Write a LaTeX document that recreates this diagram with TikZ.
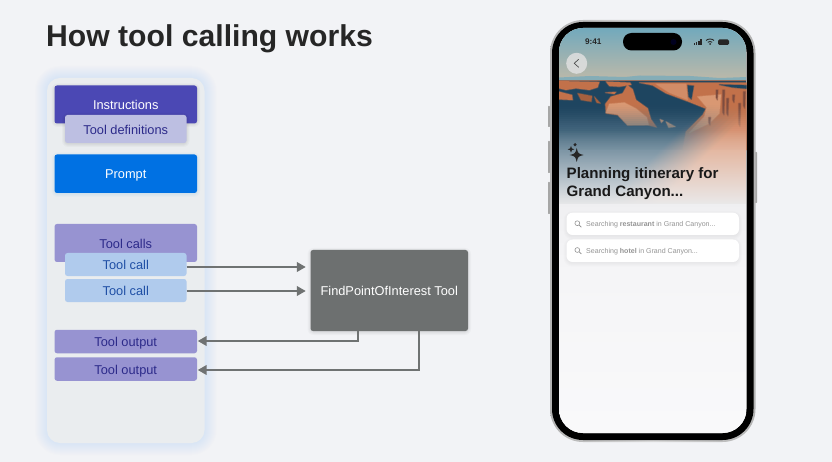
\documentclass[tikz,border=0pt]{standalone}
\usepackage{fontspec}
\setmainfont{Liberation Sans}
\usetikzlibrary{arrows.meta,fadings,calc}
\definecolor{bgc}{HTML}{F2F3F6}
\definecolor{panelc}{HTML}{EAEDEF}
\definecolor{glowc}{HTML}{C4DAF5}
\definecolor{instc}{HTML}{4B48B4}
\definecolor{defc}{HTML}{BDBFE2}
\definecolor{darktxt}{HTML}{2C2A8A}
\definecolor{promptc}{HTML}{0071E3}
\definecolor{violetc}{HTML}{9793D1}
\definecolor{callc}{HTML}{B0CBED}
\definecolor{calltxt}{HTML}{1F4FA5}
\definecolor{toolc}{HTML}{6D7070}
\definecolor{arrowc}{HTML}{6F7272}
\definecolor{rockA}{HTML}{C2714A}
\definecolor{rockB}{HTML}{D99873}
\definecolor{rockD}{HTML}{1E4560}
\definecolor{rockE}{HTML}{7E4C3E}
\definecolor{skyA}{HTML}{72A9BC}
\definecolor{skyB}{HTML}{BDB9A9}
\definecolor{fogL}{HTML}{56778C}
\definecolor{fogR}{HTML}{E2A688}
\definecolor{mistA}{HTML}{E6E6E8}
\definecolor{mistB}{HTML}{F5F5F7}
\definecolor{mistC}{HTML}{FCFCFD}
\tikzfading[name=fadeDown,top color=transparent!100,bottom color=transparent!0]
\pgfdeclarehorizontalshading{fogshade}{100bp}{color(0bp)=(fogL); color(50bp)=(fogL); color(62bp)=(fogR); color(100bp)=(fogR)}
\pgfdeclareverticalshading{mistshade}{100bp}{color(0bp)=(mistC); color(60bp)=(mistB); color(100bp)=(mistA)}
\tikzset{
  box/.style={rectangle,rounded corners=2.5pt,minimum width=#1,inner sep=0pt,font=\fontsize{12.8}{14}\selectfont,text height=10.4pt,text depth=0pt},
  widebox/.style={box=142.5pt},
  narrowbox/.style={box=121.5pt},
  flow/.style={draw=arrowc,line width=2.3pt,-{Triangle[length=9pt,width=9.5pt]}},
  card/.style={fill=white,rounded corners=6pt,draw=none},
  cardtext/.style={font=\fontsize{7.05}{8}\selectfont,text=black!42,anchor=base west,inner sep=0pt},
  rock/.style={fill=#1,draw=#1,draw opacity=.4,line width=1.4pt,line join=round},
}
\newcommand{\softbox}[5]{% x1 y1 x2 y2 colour
  \foreach \g in {0,1,2,3}
    \fill[#5,opacity=.025,rounded corners=3pt+\g] (#1-\g,#2-\g+1) rectangle (#3+\g,#4+\g+1);}
\newcommand{\sparkle}[3]{% x y r
  \fill[black!85] (#1-#3,#2) .. controls (#1-#3*.2,#2-#3*.2) .. (#1,#2-#3) .. controls (#1+#3*.2,#2-#3*.2) .. (#1+#3,#2) .. controls (#1+#3*.2,#2+#3*.2) .. (#1,#2+#3) .. controls (#1-#3*.2,#2+#3*.2) .. cycle;}
\newcommand{\lens}[2]{%
  \draw[black!45,line width=.55pt] (#1,#2) circle (2.4pt);
  \draw[black!45,line width=.7pt] (#1+1.8,#2+1.8) -- (#1+4,#2+4);}
\begin{document}
\begin{tikzpicture}[x=1pt,y=-1pt]
\useasboundingbox (0,0) rectangle (832,462);
\fill[bgc] (0,0) rectangle (832,462);
\node[anchor=base west,inner sep=0pt,font=\fontsize{30.15}{36}\selectfont\bfseries,text=black!85] (title) at (46,47) {How tool calling works};
% panel with glow
\foreach \g in {1,...,12}
  \fill[glowc,opacity=.045,rounded corners=13pt+\g] (47-\g,78-\g) rectangle (204.5+\g,443+\g);
\fill[panelc,rounded corners=13pt] (47,78) rectangle (204.5,443);
% boxes
\softbox{54.5}{85.5}{197}{123}{black}
\node[widebox,minimum height=38pt,fill=instc,text=white] (inst) at (125.75,104.5) {Instructions};
\softbox{65}{115}{186.5}{143}{black}
\node[narrowbox,minimum height=28pt,fill=defc,text=darktxt] (defs) at (125.75,129) {Tool definitions};
\softbox{54.5}{154.5}{197}{193}{promptc}
\node[widebox,minimum height=38.5pt,fill=promptc,text=white] (prompt) at (125.75,173.75) {Prompt};
\node[widebox,minimum height=38pt,fill=violetc,text=darktxt] (calls) at (125.75,243) {Tool calls};
\node[narrowbox,minimum height=23pt,fill=callc,text=calltxt] (call1) at (125.75,264.5) {Tool call};
\node[narrowbox,minimum height=23pt,fill=callc,text=calltxt] (call2) at (125.75,290.5) {Tool call};
\node[widebox,minimum height=23.5pt,fill=violetc,text=darktxt] (out1) at (125.75,341.5) {Tool output};
\node[widebox,minimum height=23.5pt,fill=violetc,text=darktxt] (out2) at (125.75,369) {Tool output};
\softbox{310.5}{250}{468}{331}{black}
\node[rectangle,rounded corners=2.5pt,minimum width=157.5pt,minimum height=81pt,inner sep=0pt,fill=toolc,text=white,font=\fontsize{12.8}{14}\selectfont] (tool) at (389.25,290.5) {FindPointOfInterest Tool};
% connectors
\draw[flow,shorten >=4.5pt] ([yshift=-2.5pt]call1.east) -- ([yshift=-2.5pt]call1.east -| tool.west);
\draw[flow,shorten >=4.5pt] ([yshift=-.5pt]call2.east) -- ([yshift=-.5pt]call2.east -| tool.west);
\draw[flow,shorten >=.5pt] ([xshift=-31.25pt]tool.south) |- ([yshift=.5pt]out1.east);
\draw[flow,shorten >=.5pt] ([xshift=29.75pt]tool.south) |- ([yshift=-1pt]out2.east);
% phone
\foreach \a/\b/\c/\d in {548/106/550/127,548/141/550/173,548/182/550/214,755/152/757/203}
  \fill[black!35,rounded corners=.6pt] (\a,\b) rectangle (\c,\d);
\shade[rounded corners=33pt,left color=black!30,right color=black!30,middle color=black!15] (550,20) rectangle (755.5,442);
\fill[black,rounded corners=31pt] (552,22) rectangle (753.5,440);
\fill[white,rounded corners=24pt] (559,28) rectangle (746.5,433);
\begin{scope}
  \clip[rounded corners=24pt] (559,28) rectangle (746.5,433);
  \shade[top color=skyA,bottom color=skyB] (559,28) rectangle (746.5,80);
  \fill[skyA!75!skyB] (559,77.5) -- (590,76) -- (625,77) -- (640,75.5) -- (690,76) -- (720,78) -- (746.5,77) -- (746.5,81) -- (559,81) -- cycle;
  \fill[rockE!70!skyB] (559,80) rectangle (746.5,82);
  % canyon, drawn in the 3x crop's coordinates
  \fill[rockD] (559,81) rectangle (746.5,150);
  \begin{scope}[xshift=556pt,yshift=-70pt,x=.33333pt,y=-.33333pt]
    \fill[rock=rockA] (9,33) -- (130,36) -- (125,52) -- (100,60) -- (60,55) -- (30,60) -- (9,55) -- cycle;
    \fill[rock=rockA] (9,65) -- (48,75) -- (50,90) -- (9,88) -- cycle;
    \fill[rock=rockA!85!black] (65,70) -- (108,78) -- (106,95) -- (75,90) -- cycle;
    \fill[rock=rockA!85!black] (115,80) -- (133,100) -- (122,98) -- cycle;
    \fill[rock=rockA] (150,35) -- (222,38) -- (226,44) -- (190,50) -- (160,48) -- cycle;
    \fill[rock=rockA] (148,68) -- (180,66) -- (175,72) -- cycle;
    \fill[rock=rockA] (148,102) -- (165,80) -- (200,70) -- (214,45) -- (230,58) -- (240,90) -- (275,115) -- (285,148) -- (302,172) -- (275,165) -- (215,166) -- (185,135) -- (150,130) -- cycle;
    \fill[rock=rockB] (150,128) -- (160,102) -- (205,98) -- (240,116) -- (272,142) -- (278,165) -- (215,165) -- (185,133) -- cycle;
    \fill[rock=rockB] (312,148) -- (322,152) -- (316,158) -- cycle;
    \fill[rock=rockB] (330,155) -- (358,170) -- (338,173) -- cycle;
    \fill[rock=rockA] (250,38) -- (573,38) -- (573,240) -- (380,240) -- (390,185) -- (440,135) -- (450,116) -- (400,96) -- (330,70) -- (290,46) -- cycle;
    \fill[rock=rockB!70!rockA] (300,42) -- (390,42) -- (395,90) -- (340,68) -- cycle;
    \fill[rock=rockB] (425,80) -- (495,74) -- (490,130) -- (460,160) -- (400,188) -- (445,140) -- (452,112) -- cycle;
    \fill[rock=rockD] (395,46) -- (413,48) -- (406,88) -- (398,80) -- cycle;
    \foreach \x/\t/\b in {500/60/135,512/85/138,548/100/170,562/65/115,458/142/166,530/75/98,480/60/90}
      \fill[rock=rockE] (\x,\t) -- (\x+6,\t) -- (\x+4,\b) -- (\x,\b-8) -- cycle;
    \fill[rock=rockD] (490,44) -- (573,46) -- (573,56) -- (530,52) -- cycle;
  \end{scope}
  % fog rising over the canyon: overlapping layers build up its opacity
  \foreach \y in {106,108,...,150}{
    \pgfmathsetmacro{\op}{.02+.011*(\y-106)/2}
    \begin{scope}
      \clip (559,\y) rectangle (746.5,216);
      \shade[shading=fogshade,shading angle=-45,opacity=\op] (559,98) rectangle (746.5,215);
    \end{scope}
  }
  \begin{scope}
    \clip (559,152) rectangle (746.5,215);
    \shade[shading=fogshade,shading angle=-45] (559,98) rectangle (746.5,215);
  \end{scope}
  \fill[mistA!85!white,path fading=fadeDown] (559,130) rectangle (746.5,205);
  \shade[shading=mistshade] (559,204.5) rectangle (746.5,433);
\end{scope}
% status bar
\fill[black,rounded corners=8.5pt] (623,33) rectangle (682,50.5);
\fill[black!70!blue!40!black] (673.5,42) circle (3pt);
\node[anchor=center,inner sep=0pt,font=\fontsize{8.2}{9}\selectfont\bfseries,text=black!85] (time) at (593.3,42) {9:41};
\foreach \x/\h in {693.5/1.8,695.8/3,698.1/4.2,700.4/5.6}
  \fill[black!85] (\x,45-\h) rectangle (\x+1.5,45);
\draw[black!85,line width=.9pt] (706,40.5) .. controls (708,38.5) and (712,38.5) .. (714,40.5);
\draw[black!85,line width=.9pt] (707.8,42.3) .. controls (709,41.2) and (711,41.2) .. (712.2,42.3);
\fill[black!85] (710,44) circle (1pt);
\fill[black!85,rounded corners=1.4pt] (718,39.5) rectangle (729,45);
% back button
\fill[white!88!black,opacity=.85] (576.7,63.3) circle (10.5pt);
\draw[black!70,line width=.7pt,line join=round] (578.7,59.3) -- (574.2,63.3) -- (578.7,67.3);
% sparkles
\sparkle{576.7}{155}{7}
\sparkle{571}{149.3}{3.3}
\sparkle{575}{144.7}{1.7}
% heading
\node[anchor=base west,inner sep=0pt,font=\fontsize{15.1}{18}\bfseries\selectfont,text=black!90] (h1) at (566.5,178.3) {Planning itinerary for};
\node[anchor=base west,inner sep=0pt,font=\fontsize{15.1}{18}\bfseries\selectfont,text=black!90] (h2) at (566.5,196.8) {Grand Canyon...};
% cards
\foreach \g in {0,1,2,3}{
  \fill[black,opacity=.012,rounded corners=6pt+\g] (566.5-\g,212.7-\g+1.5) rectangle (739+\g,235+\g+1.5);
  \fill[black,opacity=.012,rounded corners=6pt+\g] (566.5-\g,239.5-\g+1.5) rectangle (739+\g,262+\g+1.5);
}
\fill[card] (566.5,212.7) rectangle (739,235);
\fill[card] (566.5,239.5) rectangle (739,262);
\lens{577.3}{223.2}
\lens{577.3}{250}
\node[cardtext] (c1) at (586,226.2) {Searching \textbf{restaurant} in Grand Canyon...};
\node[cardtext] (c2) at (586,253.2) {Searching \textbf{hotel} in Grand Canyon...};
\end{tikzpicture}
\end{document}
